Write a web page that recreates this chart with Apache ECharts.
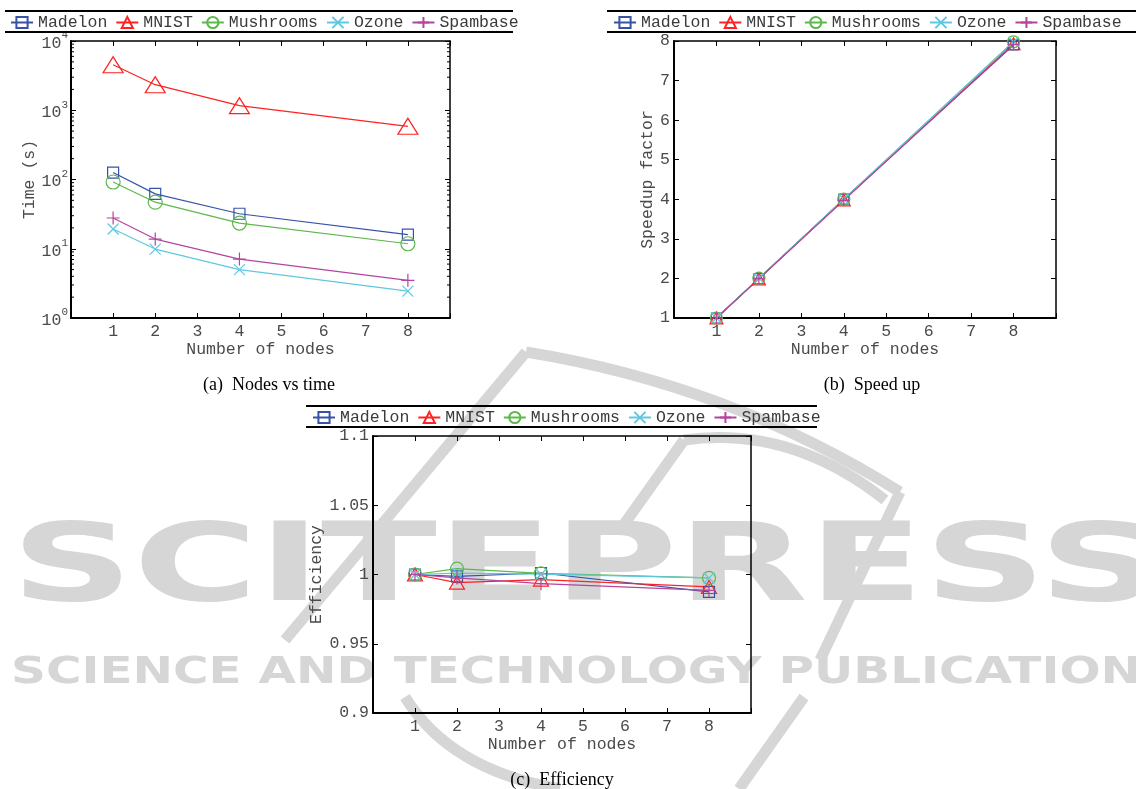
<!DOCTYPE html>
<html>
<head>
<meta charset="utf-8">
<script src="https://cdn.jsdelivr.net/npm/echarts@6/dist/echarts.min.js"></script>
<style>
html,body{margin:0;padding:0;background:#fff;}
#main{width:1136px;height:789px;}
</style>
</head>
<body>
<div id="main"></div>
<script>
// data
var nodes = [1, 2, 4, 8];
var xTicks = ['1', '2', '3', '4', '5', '6', '7', '8'];
var names = ['Madelon', 'MNIST', 'Mushrooms', 'Ozone', 'Spambase'];
var colors = ['#3753a8', '#ff2222', '#5cb84a', '#5ec8e0', '#b4459e'];

//time (s)
var timeMadelon   = [126, 62, 32, 16];
var timeMnist     = [4550, 2340, 1165, 586];
var timeMushrooms = [92, 47, 23.5, 11.8];
var timeOzone     = [19.3, 9.9, 5.0, 2.45];
var timeSpambase  = [27.8, 13.8, 7.1, 3.5];

//speedup factor
var spMadelon   = [1, 1.997, 4.004, 7.90];
var spMnist     = [1, 1.988, 3.985, 7.93];
var spMushrooms = [1, 2.008, 4.003, 7.98];
var spOzone     = [1, 2.002, 4.001, 7.98];
var spSpambase  = [1, 1.995, 3.974, 7.91];

//efficiency
var efMadelon   = [1, 0.9987, 1.0011, 0.9874];
var efMnist     = [1, 0.9941, 0.9963, 0.9910];
var efMushrooms = [1, 1.0042, 1.0008, 0.9975];
var efOzone     = [1, 1.0010, 1.0002, 0.9975];
var efSpambase  = [1, 0.9975, 0.9934, 0.9886];

//minor ticks of the log axis
var logMinor = [2, 3, 4, 5, 6, 7, 8, 9, 20, 30, 40, 50, 60, 70, 80, 90,
	200, 300, 400, 500, 600, 700, 800, 900, 2000, 3000, 4000, 5000, 6000, 7000, 8000, 9000];

var symbols = ['rect', 'triangle', 'circle', 'path://M0,0L10,10M10,0L0,10', 'path://M5,0L5,10M0,5L10,5'];
var sizeA = [[11, 11], [20, 16], [14, 14], [11, 11], [13, 13]];
var sizeB = [[10, 10], [13, 12], [12, 12], [10, 10], [12, 12]];
var sizeC = [[11, 11], [15, 13], [13, 13], [11, 11], [13, 13]];

var mono = 'Liberation Mono';
var txtColor = '#4a4a4a';

function makeSeries(g, list, sizes){
	return list.map(function(d, i){
		return {
			name: names[i],
			type: 'line',
			xAxisIndex: g * 2,
			yAxisIndex: g * 2,
			data: nodes.map(function(n, j){ return [n, d[j]]; }),
			symbol: symbols[i],
			symbolSize: sizes[i],
			lineStyle: {color: colors[i], width: 1.2},
			itemStyle: {color: 'rgba(0,0,0,0)', borderColor: colors[i], borderWidth: 1.2},
			emphasis: {disabled: true},
			z: 3
		};
	});
}

function xAx(g, top){
	return {
		type: 'value', gridIndex: g, position: top ? 'top' : 'bottom',
		min: 0, max: 9, interval: 1,
		axisLine: {show: true, onZero: false, lineStyle: {color: '#000', width: top ? 1.5 : 2}},
		axisTick: {show: true, inside: true, length: 5, lineStyle: {color: '#000'}},
		axisLabel: {
			show: !top, margin: 5, color: txtColor, fontFamily: mono, fontSize: 16.5,
			formatter: function(v){ return (v >= 1 && v <= 8) ? xTicks[v - 1] : ''; }
		},
		splitLine: {show: false},
		name: top ? '' : 'Number of nodes',
		nameLocation: 'middle', nameGap: 18,
		nameTextStyle: {color: txtColor, fontFamily: mono, fontSize: 16.5}
	};
}

function yAx(g, right, extra){
	var o = {
		type: 'value', gridIndex: g, position: right ? 'right' : 'left',
		axisLine: {show: true, onZero: false, lineStyle: {color: '#000', width: right ? 1.5 : 2}},
		axisTick: {show: true, inside: true, length: 5, lineStyle: {color: '#000'}},
		axisLabel: {show: !right, margin: 4, color: txtColor, fontFamily: mono, fontSize: 16.5},
		splitLine: {show: false},
		nameLocation: 'middle',
		nameTextStyle: {color: txtColor, fontFamily: mono, fontSize: 16.5}
	};
	for (var k in extra) { o[k] = extra[k]; }
	if (right) { o.name = ''; }
	return o;
}

var logExtra = {type: 'log', logBase: 10, min: 1, max: 10000, name: 'Time (s)', nameGap: 33};
var logLabel = {
	show: true, margin: 3, color: txtColor,
	formatter: function(v){ return '{b|10}{s|' + Math.round(Math.log10(v)) + '}'; },
	rich: {
		b: {fontFamily: mono, fontSize: 16.5, color: txtColor, lineHeight: 22, verticalAlign: 'bottom'},
		s: {fontFamily: mono, fontSize: 11, color: txtColor, lineHeight: 12, verticalAlign: 'top'}
	}
};

var yA = yAx(0, false, logExtra); yA.axisLabel = logLabel;
var yA2 = yAx(0, true, logExtra);
var spExtra = {min: 1, max: 8, interval: 1, name: 'Speedup factor', nameGap: 16};
var efExtra = {min: 0.9, max: 1.1, interval: 0.05, name: 'Efficiency', nameGap: 45};

// minor ticks on both sides of the log plot
var minorTicks = {
	type: 'custom', xAxisIndex: 0, yAxisIndex: 0, silent: true, z: 4,
	data: logMinor.map(function(v){ return [0, v]; }),
	renderItem: function(params, api){
		var l = api.coord([0, api.value(1)]);
		var r = api.coord([9, api.value(1)]);
		return {type: 'group', children: [
			{type: 'line', shape: {x1: l[0], y1: l[1], x2: l[0] + 3, y2: l[1]}, style: {stroke: '#000', lineWidth: 1}},
			{type: 'line', shape: {x1: r[0], y1: r[1], x2: r[0] - 3, y2: r[1]}, style: {stroke: '#000', lineWidth: 1}}
		]};
	}
};

// watermark sizing
var cv = document.createElement('canvas').getContext('2d');
function fitScale(text, font, w){
	cv.font = font;
	return w / cv.measureText(text).width;
}
var wmGray = '#d6d6d6';
var wmFont1 = 'bold 108px "DejaVu Sans"';
var wmFont2 = 'bold 37px "DejaVu Sans"';
var wmText1 = 'SCITEPRESS';
var wmText2 = 'SCIENCE AND TECHNOLOGY PUBLICATIONS';

function rule(x1, x2, y){
	return {type: 'line', shape: {x1: x1, y1: y, x2: x2, y2: y}, style: {stroke: '#000', lineWidth: 2}, z: 10};
}
function caption(t, x, y){
	return {type: 'text', x: x, y: y, style: {text: t, font: '18px "Liberation Serif"', fill: '#000', textAlign: 'center', textVerticalAlign: 'middle'}, z: 10};
}
function stroke(shape, type){
	return {type: type, shape: shape, style: {stroke: wmGray, lineWidth: 11, fill: null, lineCap: 'butt'}, z: -5};
}

var graphics = [
	{type: 'text', x: 11, y: 572, scaleX: fitScale(wmText1, wmFont1, 1150), z: -5,
		style: {text: wmText1, font: wmFont1, fill: wmGray, textVerticalAlign: 'middle'}},
	{type: 'text', x: 11, y: 673, scaleX: fitScale(wmText2, wmFont2, 1165), z: -5,
		style: {text: wmText2, font: wmFont2, fill: wmGray, textVerticalAlign: 'middle'}},
	stroke({points: [[285, 640], [526, 352]]}, 'polyline'),
	stroke({x1: 526, y1: 352, cpx1: 730, cpy1: 385, x2: 900, y2: 492}, 'bezierCurve'),
	stroke({points: [[900, 492], [820, 660]]}, 'polyline'),
	stroke({points: [[620, 530], [684, 440]]}, 'polyline'),
	stroke({x1: 684, y1: 440, cpx1: 790, cpy1: 425, x2: 885, y2: 500}, 'bezierCurve'),
	stroke({x1: 405, y1: 697, cpx1: 450, cpy1: 770, x2: 560, y2: 789}, 'bezierCurve'),
	stroke({points: [[804, 697], [739, 789]]}, 'polyline'),
	rule(5, 513, 11), rule(5, 513, 32),
	rule(607, 1136, 11), rule(607, 1136, 32),
	rule(306, 817, 406), rule(306, 817, 427),
	caption('(a)  Nodes vs time', 269, 385),
	caption('(b)  Speed up', 872, 385),
	caption('(c)  Efficiency', 562, 780)
];

function makeLegend(left, top){
	return {
		data: names, left: left, top: top, orient: 'horizontal',
		itemWidth: 22, itemHeight: 14, itemGap: 8, padding: 0,
		selectedMode: false,
		textStyle: {fontFamily: mono, fontSize: 16.5, color: '#3a3a3a'}
	};
}

var chart = echarts.init(document.getElementById('main'));
var option = {
	backgroundColor: '#fff',
	animation: false,
	legend: [makeLegend(10, 14), makeLegend(613, 14), makeLegend(312, 409)],
	grid: [
		{left: 71, top: 41, width: 379, height: 277},
		{left: 674, top: 41, width: 382, height: 277},
		{left: 373, top: 436, width: 378, height: 277}
	],
	xAxis: [xAx(0, false), xAx(0, true), xAx(1, false), xAx(1, true), xAx(2, false), xAx(2, true)],
	yAxis: [yA, yA2, yAx(1, false, spExtra), yAx(1, true, spExtra), yAx(2, false, efExtra), yAx(2, true, efExtra)],
	graphic: graphics,
	series: [].concat(
		makeSeries(0, [timeMadelon, timeMnist, timeMushrooms, timeOzone, timeSpambase], sizeA),
		makeSeries(1, [spMadelon, spMnist, spMushrooms, spOzone, spSpambase], sizeB),
		makeSeries(2, [efMadelon, efMnist, efMushrooms, efOzone, efSpambase], sizeC),
		[minorTicks]
	)
};
chart.setOption(option);
window.addEventListener('resize', function(){ chart.resize(); });
</script>
</body>
</html>
